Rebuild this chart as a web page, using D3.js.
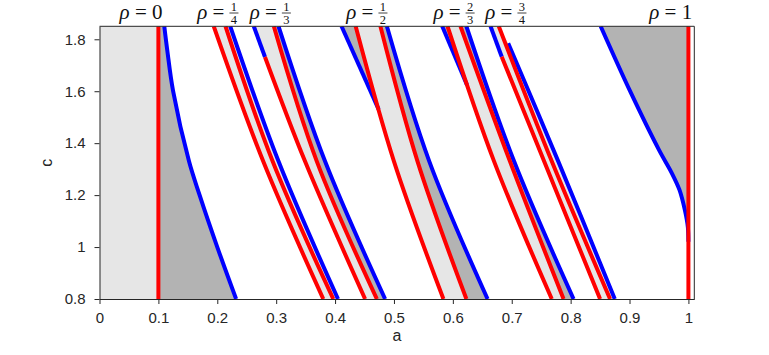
<!DOCTYPE html>
<html><head><meta charset="utf-8">
<script src="https://cdn.jsdelivr.net/npm/d3@7"></script>
<style>body{margin:0;background:#fff}svg{display:block}</style>
</head><body><svg id="chart" width="769" height="355"></svg>
<script>
// ---------- data (a, c) ----------
const xTicks = [0,0.1,0.2,0.3,0.4,0.5,0.6,0.7,0.8,0.9,1];
const yTicks = [0.8,1,1.2,1.4,1.6,1.8];
const rhoNum = ["0","1","1","1","2","3","1"];
const rhoDen = [null,"4","3","2","3","4",null];
const rhoLabelA = [0.0705,0.201,0.290,0.454,0.602,0.690,0.970];

const rho0Red  = [[0.1,1.85],[0.1,0.8]];
const rho0Blue = [[0.110,1.85],[0.115,1.759],[0.125,1.6],[0.152,1.33],[0.170,1.2],[0.200,1.0],[0.232,0.8]];

const r14a = [[0.194,1.85],[0.278,1.33],[0.380,0.8]];
const r14b = [[0.214,1.85],[0.294,1.33],[0.397,0.8]];
const b14  = [[0.222,1.85],[0.304,1.33],[0.405,0.8]];

const b13a = [[0.262,1.85],[0.281,1.732]];
const r13a = [[0.281,1.732],[0.349,1.33],[0.451,0.8]];
const r13b = [[0.296,1.85],[0.369,1.33],[0.471,0.8]];
const b13b = [[0.304,1.85],[0.383,1.33],[0.485,0.8]];

const b12a = [[0.411,1.85],[0.474,1.53]];
const r12a = [[0.435,1.85],[0.500,1.33],[0.584,0.8]];
const r12b = [[0.477,1.85],[0.540,1.33],[0.623,0.8]];
const b12b = [[0.488,1.85],[0.560,1.33],[0.659,0.8]];

const b23a = [[0.582,1.85],[0.624,1.624]];
const r23a = [[0.591,1.85],[0.670,1.33],[0.768,0.8]];
const r23b = [[0.613,1.85],[0.697,1.33],[0.788,0.8]];
const b23b = [[0.623,1.85],[0.704,1.33],[0.805,0.8]];

const b34a = [[0.664,1.85],[0.683,1.733]];
const r34a = [[0.683,1.733],[0.755,1.33],[0.850,0.8]];
const r34b = [[0.678,1.85],[0.768,1.33],[0.867,0.8]];
const b34b = [[0.694,1.785],[0.779,1.33],[0.875,0.8]];

const rho1Red  = [[1,1.85],[1,0.8]];
const rho1Blue = [[0.851,1.85],[0.901,1.6],[0.950,1.374],[0.972,1.284],[0.985,1.219],[0.994,1.142],[0.999,1.078],[1.0,1.02]];

// ---------- setup ----------
const LIGHT = "#e6e6e6", DARK = "#b3b3b3", RED = "#ff0000", BLUE = "#0000ff";
const svg = d3.select("#chart");
const x = d3.scaleLinear().domain([0,1.01]).range([99.5,694.3]);
const y = d3.scaleLinear().domain([0.8,1.85]).range([299,26.3]);

svg.append("defs").append("clipPath").attr("id","clip").append("rect")
  .attr("x",x(0)).attr("y",y(1.85)).attr("width",x(1.01)-x(0)).attr("height",y(0.8)-y(1.85));

const plot = svg.append("g").attr("clip-path","url(#clip)");
const curveLine = d3.line().x(d=>x(d[0])).y(d=>y(d[1])).curve(d3.curveCatmullRom.alpha(0.5));

function topDown(pts){
  const s = pts.slice().sort((p,q)=>q[1]-p[1]);
  return s.filter((p,i)=>i===0 || p[0]!==s[i-1][0] || p[1]!==s[i-1][1]);
}
function fillBetween(left, right, fill){
  const dl = curveLine(topDown(left));
  const dr = curveLine(topDown(right).reverse());
  plot.append("path").attr("d", dl + "L" + dr.slice(1) + "Z").attr("fill",fill).attr("stroke","none");
}
const rho1Bottom = rho1Blue[rho1Blue.length-1][1];

// fills
fillBetween([[0,1.85],[0,0.8]], rho0Red, LIGHT);
fillBetween(rho0Red, rho0Blue, DARK);
fillBetween(r14a, b14, LIGHT);
fillBetween(b13a.concat(r13a), r13b, LIGHT);
fillBetween(r13b, b13b, DARK);
fillBetween(b12a, [r12a[0]], DARK);
fillBetween(r12a, r12b, LIGHT);
fillBetween(r12b, b12b, DARK);
fillBetween(b23a, [r23a[0]], DARK);
fillBetween(r23a, r23b, LIGHT);
fillBetween(r23b, b23b, DARK);
fillBetween(b34a.concat(r34a), r34b, LIGHT);
fillBetween(r34b, b34b, LIGHT);
fillBetween(rho1Blue, rho1Red.map(d=>[d[0], Math.max(d[1], rho1Bottom)]), DARK);

// lines (blue first, red on top)
const blues = [rho0Blue, b14, b13a, b13b, b12a, b12b, b23a, b23b, b34a, b34b, rho1Blue];
const reds  = [rho0Red, r14a, r14b, r13a, r13b, r12a, r12b, r23a, r23b, r34a, r34b, rho1Red];
blues.forEach(l=>plot.append("path").attr("d",curveLine(topDown(l))).attr("fill","none").attr("stroke",BLUE).attr("stroke-width",4));
reds.forEach(l=>plot.append("path").attr("d",curveLine(topDown(l))).attr("fill","none").attr("stroke",RED).attr("stroke-width",4));

// ---------- axes ----------
const AX = "#262626";
const SANS = "'Liberation Sans',Arial,sans-serif";
const fmt = d => String(+d.toFixed(2));
const xAxis = svg.append("g").attr("transform",`translate(0,${y(0.8)})`)
  .call(d3.axisBottom(x).tickValues(xTicks).tickFormat(fmt).tickSize(5).tickSizeOuter(0).tickPadding(8));
const yAxis = svg.append("g").attr("transform",`translate(${x(0)},0)`)
  .call(d3.axisLeft(y).tickValues(yTicks).tickFormat(fmt).tickSize(5).tickSizeOuter(0).tickPadding(9));
[xAxis,yAxis].forEach(g=>{
  g.selectAll("path,line").attr("stroke",AX);
  g.selectAll("text").attr("fill",AX).style("font-family",SANS).style("font-size","15px");
});
svg.append("line").attr("x1",x(0)).attr("x2",x(1.01)).attr("y1",y(1.85)).attr("y2",y(1.85)).attr("stroke",AX);
svg.append("line").attr("x1",x(1.01)).attr("x2",x(1.01)).attr("y1",y(1.85)).attr("y2",y(0.8)).attr("stroke",AX);

svg.append("text").attr("x",(x(0)+x(1.01))/2).attr("y",341).attr("text-anchor","middle")
  .attr("fill",AX).style("font-family",SANS).style("font-size","16px").text("a");
svg.append("text").attr("transform",`translate(52,${(y(0.8)+y(1.85))/2}) rotate(-90)`).attr("text-anchor","middle")
  .attr("fill",AX).style("font-family",SANS).style("font-size","16px").text("c");

// ---------- rho labels ----------
const SERIF = "'Liberation Serif','DejaVu Serif',serif";
rhoNum.forEach((num,i)=>{
  const g = svg.append("g");
  const t = g.append("text").attr("y",18.5).attr("fill","#111").style("font-family",SERIF).style("font-size","21px").style("white-space","pre");
  t.append("tspan").style("font-style","italic").text("ρ");
  let w;
  if(rhoDen[i]===null){
    t.append("tspan").text(" = " + num);
    w = t.node().getComputedTextLength();
  } else {
    t.append("tspan").text(" =");
    const w0 = t.node().getComputedTextLength() + 5;
    const fw = 9;
    g.append("text").attr("x",w0+fw/2).attr("y",10.5).attr("text-anchor","middle").attr("fill","#111")
      .style("font-family",SERIF).style("font-size","12.5px").text(num);
    g.append("text").attr("x",w0+fw/2).attr("y",23.5).attr("text-anchor","middle").attr("fill","#111")
      .style("font-family",SERIF).style("font-size","12.5px").text(rhoDen[i]);
    g.append("line").attr("x1",w0).attr("x2",w0+fw).attr("y1",13).attr("y2",13).attr("stroke","#111").attr("stroke-width",0.8);
    w = w0+fw;
  }
  g.attr("transform",`translate(${x(rhoLabelA[i])-w/2},0)`);
});
</script></body></html>
